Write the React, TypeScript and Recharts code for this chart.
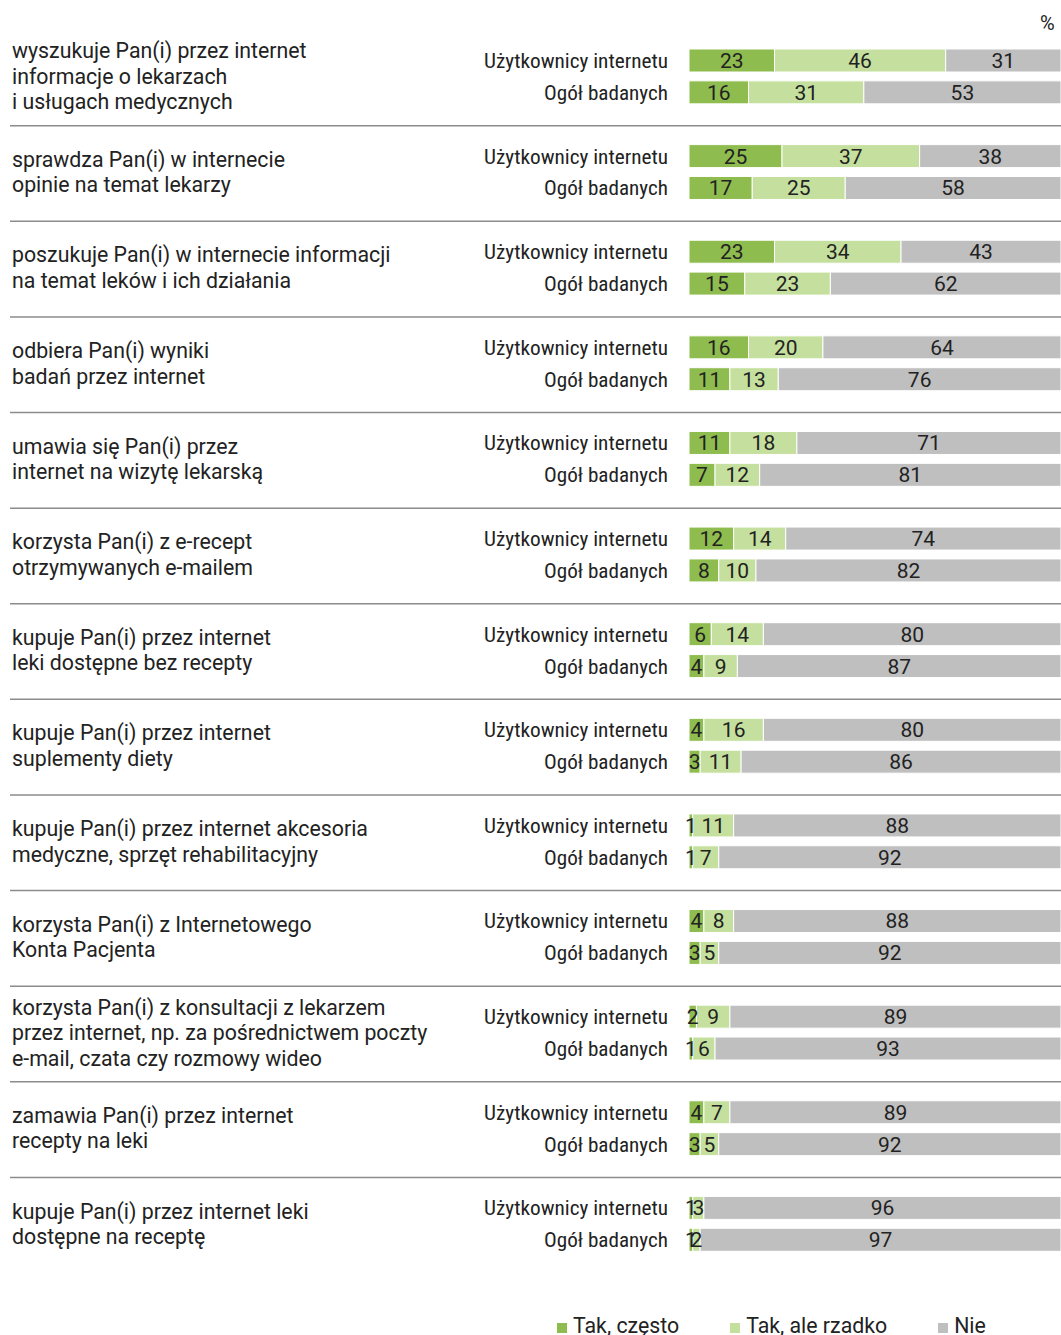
import React from 'react';
import { BarChart, Bar, XAxis, YAxis, Legend, LabelList } from 'recharts';

const questions = [
  ['wyszukuje Pan(i) przez internet', 'informacje o lekarzach', 'i usługach medycznych'],
  ['sprawdza Pan(i) w internecie', 'opinie na temat lekarzy'],
  ['poszukuje Pan(i) w internecie informacji', 'na temat leków i ich działania'],
  ['odbiera Pan(i) wyniki', 'badań przez internet'],
  ['umawia się Pan(i) przez', 'internet na wizytę lekarską'],
  ['korzysta Pan(i) z e-recept', 'otrzymywanych e-mailem'],
  ['kupuje Pan(i) przez internet', 'leki dostępne bez recepty'],
  ['kupuje Pan(i) przez internet', 'suplementy diety'],
  ['kupuje Pan(i) przez internet akcesoria', 'medyczne, sprzęt rehabilitacyjny'],
  ['korzysta Pan(i) z Internetowego', 'Konta Pacjenta'],
  ['korzysta Pan(i) z konsultacji z lekarzem', 'przez internet, np. za pośrednictwem poczty', 'e-mail, czata czy rozmowy wideo'],
  ['zamawia Pan(i) przez internet', 'recepty na leki'],
  ['kupuje Pan(i) przez internet leki', 'dostępne na receptę'],
];

const groups = ['Użytkownicy internetu', 'Ogół badanych'];
const seriesNames = ['Tak, często', 'Tak, ale rzadko', 'Nie'];
const colors = ['#8fbc4f', '#c5e09e', '#bfbfbf'];

// Użytkownicy internetu
const usersOften = [23, 25, 23, 16, 11, 12, 6, 4, 1, 4, 2, 4, 1];
const usersRarely = [46, 37, 34, 20, 18, 14, 14, 16, 11, 8, 9, 7, 3];
const usersNo = [31, 38, 43, 64, 71, 74, 80, 80, 88, 88, 89, 89, 96];
// Ogół badanych
const allOften = [16, 17, 15, 11, 7, 8, 4, 3, 1, 3, 1, 3, 1];
const allRarely = [31, 25, 23, 13, 12, 10, 9, 11, 7, 5, 6, 5, 2];
const allNo = [53, 58, 62, 76, 81, 82, 87, 86, 92, 92, 93, 92, 97];

type Row = { key: string; kind: 'u' | 'o' | 'sp'; q: number; often?: number; rarely?: number; no?: number };

const rows: Row[] = [];
questions.forEach((_, i) => {
  rows.push({ key: `u${i}`, kind: 'u', q: i, often: usersOften[i], rarely: usersRarely[i], no: usersNo[i] });
  rows.push({ key: `o${i}`, kind: 'o', q: i, often: allOften[i], rarely: allRarely[i], no: allNo[i] });
  rows.push({ key: `s${i}`, kind: 'sp', q: i });
});
const rowByKey: Record<string, Row> = {};
rows.forEach((r) => (rowByKey[r.key] = r));

const FONT = 'Roboto, "Noto Sans", sans-serif';
const NARROW = '"Roboto Condensed", "Liberation Sans Narrow", Roboto, sans-serif';

const Tick = (props: any) => {
  const { y, payload } = props;
  const row = rowByKey[payload.value];
  if (!row) return null;
  if (row.kind === 'sp') {
    if (row.q === questions.length - 1) return null;
    return <line x1={10} x2={1061} y1={y + 1} y2={y + 1} stroke="#8c8c8c" strokeWidth={1.5} />;
  }
  const label = row.kind === 'u' ? groups[0] : groups[1];
  const lines = questions[row.q];
  const lh = 25.5;
  const center = y + 16;
  return (
    <g>
      <text x={668} y={y} dy={7} textAnchor="end" fontFamily={NARROW} fontSize={21} fill="#222"
        textLength={row.kind === 'u' ? 184 : 124} lengthAdjust="spacingAndGlyphs">
        {label}
      </text>
      {row.kind === 'u' && (
        <text x={12} fontFamily={FONT} fontSize={21.3} fill="#222">
          {lines.map((l, i) => (
            <tspan key={i} x={12} y={center + (i - (lines.length - 1) / 2) * lh + 7}>{l}</tspan>
          ))}
        </text>
      )}
    </g>
  );
};

const LegendContent = (props: any) => {
  const items = [...(props.payload || [])].sort(
    (a: any, b: any) => seriesNames.indexOf(a.value) - seriesNames.indexOf(b.value)
  );
  return (
    <div style={{ display: 'flex', gap: 51, fontFamily: FONT, fontSize: 21.3, color: '#222' }}>
      {items.map((p: any) => (
        <div key={p.value} style={{ display: 'flex', alignItems: 'center' }}>
          <span style={{ width: 10, height: 10, background: p.color, marginRight: 6, marginTop: 4 }} />
          {p.value}
        </div>
      ))}
    </div>
  );
};

const fmt = (v: any) => (v == null ? '' : v);

export default function App() {
  const keys = ['often', 'rarely', 'no'];
  return (
    <div style={{ position: 'absolute', left: 0, top: 0, width: 1061, height: 1335, background: '#fff', overflow: 'hidden' }}>
      <div style={{ position: 'absolute', left: 1040, top: 11, fontFamily: FONT, fontSize: 20, color: '#222' }}>%</div>
      <BarChart width={1061} height={1335} data={rows} layout="vertical"
        margin={{ top: 45, right: 0, bottom: 47, left: 0 }} barSize={23}>
        <XAxis type="number" domain={[0, 100]} hide />
        <YAxis type="category" dataKey="key" width={689} axisLine={false} tickLine={false} tick={<Tick />} interval={0} />
        <Legend layout="horizontal" verticalAlign="middle" align="center" content={<LegendContent />}
          wrapperStyle={{ position: 'absolute', left: 557, top: 1313, width: 'auto', height: 'auto' }} />
        {keys.map((k, i) => (
          <Bar key={k} dataKey={k} name={seriesNames[i]} stackId="a" fill={colors[i]} stroke="#fff" strokeWidth={1} isAnimationActive={false}>
            <LabelList dataKey={k} position="center" formatter={fmt} fill="#222" fontFamily={FONT} fontSize={21} />
          </Bar>
        ))}
      </BarChart>
    </div>
  );
}
